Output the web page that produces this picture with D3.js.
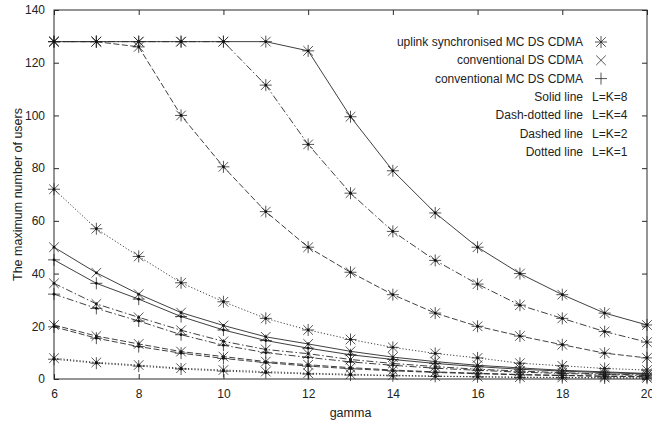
<!DOCTYPE html>
<html lang="en">
<head>
<meta charset="UTF-8">
<title>Maximum number of users vs gamma</title>
<script src="https://d3js.org/d3.v7.min.js"></script>
<style>
  body { margin: 0; background: #fff; }
  text { font-family: "Liberation Sans", Arial, sans-serif; fill: #222; }
</style>
</head>
<body>
<svg id="chart" width="652" height="424"></svg>
<script>
// x values and tick labels
const gammaValues = [6, 7, 8, 9, 10, 11, 12, 13, 14, 15, 16, 17, 18, 19, 20];
const xTicks = [6, 8, 10, 12, 14, 16, 18, 20];
const yTicks = [0, 20, 40, 60, 80, 100, 120, 140];

// uplink synchronised MC DS CDMA (asterisk)
const uplinkL8 = [128, 128, 128, 128, 128, 128, 124.5, 99.5, 79, 63, 50, 40, 32, 25, 20.5];
const uplinkL4 = [128, 128, 128, 128, 128, 111.5, 89, 70.5, 56, 45, 36, 28, 23, 18, 14];
const uplinkL2 = [128, 128, 126, 100, 80.5, 63.5, 50, 40.5, 32, 25, 20, 16.3, 13, 9.8, 8];
const uplinkL1 = [72, 57, 46.5, 36.5, 29.3, 23, 18.6, 15, 12, 9.7, 8, 6, 5, 4, 3.4];

// conventional DS CDMA (x)
const convDsL8 = [50, 40.3, 32.2, 25.2, 20.3, 16, 13.3, 10.5, 8.3, 6.6, 5.2, 4.2, 3.3, 2.7, 2.1];
const convDsL4 = [36.3, 28.5, 23.4, 18.5, 14.3, 11.2, 9.6, 7.4, 5.9, 4.7, 3.7, 3, 2.4, 1.9, 1.5];
const convDsL2 = [20.5, 16.3, 13.3, 10.4, 8.5, 6.6, 5.4, 4.3, 3.4, 2.7, 2.2, 1.7, 1.4, 1.1, 0.9];
const convDsL1 = [7.9, 6.3, 5.3, 4.1, 3.4, 2.8, 2.2, 1.8, 1.4, 1.1, 0.9, 0.7, 0.6, 0.5, 0.4];

// conventional MC DS CDMA (+)
const convMcL8 = [45.2, 36.3, 30.3, 23.7, 18.6, 14.6, 11.7, 9.2, 7.4, 5.9, 4.7, 3.7, 3, 2.4, 1.9];
const convMcL4 = [32.2, 26.8, 22, 16.8, 12.8, 10, 8.2, 6.5, 5.2, 4.1, 3.3, 2.6, 2.1, 1.7, 1.3];
const convMcL2 = [19.8, 15.5, 12.3, 9.8, 7.8, 6.2, 4.9, 3.9, 3.1, 2.5, 2, 1.6, 1.3, 1, 0.8];
const convMcL1 = [7.5, 6, 4.9, 3.8, 3, 2.4, 1.9, 1.5, 1.2, 1, 0.8, 0.6, 0.5, 0.4, 0.3];

const legendSystems = ["uplink synchronised MC DS CDMA", "conventional DS CDMA", "conventional MC DS CDMA"];
const legendLines = [["Solid line", "L=K=8"], ["Dash-dotted line", "L=K=4"], ["Dashed line", "L=K=2"], ["Dotted line", "L=K=1"]];

const dashes = { solid: null, dashdot: "7,2.5,1.5,2.5", dashed: "6,2.5", dotted: "1.2,2" };

const series = [
  { values: uplinkL8, marker: "star", style: "solid" },
  { values: uplinkL4, marker: "star", style: "dashdot" },
  { values: uplinkL2, marker: "star", style: "dashed" },
  { values: uplinkL1, marker: "star", style: "dotted" },
  { values: convDsL8, marker: "cross", style: "solid" },
  { values: convDsL4, marker: "cross", style: "dashdot" },
  { values: convDsL2, marker: "cross", style: "dashed" },
  { values: convDsL1, marker: "cross", style: "dotted" },
  { values: convMcL8, marker: "plus", style: "solid" },
  { values: convMcL4, marker: "plus", style: "dashdot" },
  { values: convMcL2, marker: "plus", style: "dashed" },
  { values: convMcL1, marker: "plus", style: "dotted" }
];

const margin = { left: 54, right: 5, top: 10, bottom: 45 };
const width = 652, height = 424;

const svg = d3.select("#chart");

const x = d3.scaleLinear().domain([6, 20]).range([margin.left, width - margin.right]);
const y = d3.scaleLinear().domain([0, 140]).range([height - margin.bottom, margin.top]);

const ink = "#2a2a2a";

// marker paths
function markerPath(type, s) {
  const p = d3.path();
  if (type === "plus" || type === "star") {
    p.moveTo(-s, 0); p.lineTo(s, 0);
    p.moveTo(0, -s); p.lineTo(0, s);
  }
  if (type === "cross" || type === "star") {
    const d = s * 0.8;
    p.moveTo(-d, -d); p.lineTo(d, d);
    p.moveTo(-d, d); p.lineTo(d, -d);
  }
  return p.toString();
}

// frame
svg.append("rect")
  .attr("x", x(6)).attr("y", y(140))
  .attr("width", x(20) - x(6)).attr("height", y(0) - y(140))
  .attr("fill", "none").attr("stroke", ink).attr("stroke-width", 1);

// axes with inward ticks (bottom/left) and mirrored ticks (top/right)
const xAxis = d3.axisBottom(x).tickValues(xTicks).tickSizeInner(-5).tickSizeOuter(0).tickPadding(10);
const yAxis = d3.axisLeft(y).tickValues(yTicks).tickSizeInner(-5).tickSizeOuter(0).tickPadding(9);

const gx = svg.append("g").attr("transform", `translate(0,${y(0)})`).call(xAxis);
const gy = svg.append("g").attr("transform", `translate(${x(6)},0)`).call(yAxis);
svg.append("g").attr("transform", `translate(0,${y(140)})`)
  .call(d3.axisTop(x).tickValues(xTicks).tickSizeInner(-5).tickSizeOuter(0).tickFormat(""));
svg.append("g").attr("transform", `translate(${x(20)},0)`)
  .call(d3.axisRight(y).tickValues(yTicks).tickSizeInner(-5).tickSizeOuter(0).tickFormat(""));

svg.selectAll(".domain").remove();
svg.selectAll(".tick line").attr("stroke", ink);
svg.selectAll(".tick text").attr("font-size", 12).attr("fill", "#222")
  .style("font-family", '"Liberation Sans", Arial, sans-serif');

// axis titles
svg.append("text")
  .attr("x", (x(6) + x(20)) / 2).attr("y", 417)
  .attr("text-anchor", "middle").attr("font-size", 12.5)
  .text("gamma");
svg.append("text")
  .attr("transform", `translate(22,${(y(0) + y(140)) / 2}) rotate(-90)`)
  .attr("text-anchor", "middle").attr("font-size", 12.5)
  .text("The maximum number of users");

// lines
const line = d3.line()
  .x((d, i) => x(gammaValues[i]))
  .y(d => y(d));

const plot = svg.append("g");

plot.selectAll(".curve")
  .data(series)
  .enter().append("path")
  .attr("class", "curve")
  .attr("d", d => line(d.values))
  .attr("fill", "none")
  .attr("stroke", ink)
  .attr("stroke-width", 0.9)
  .attr("stroke-dasharray", d => dashes[d.style]);

// markers
series.forEach(s => {
  const g = plot.append("g");
  g.selectAll("path")
    .data(s.values)
    .enter().append("path")
    .attr("transform", (d, i) => `translate(${x(gammaValues[i])},${y(d)})`)
    .attr("d", markerPath(s.marker, 6))
    .attr("fill", "none")
    .attr("stroke", ink)
    .attr("stroke-width", 0.8);
  g.selectAll("circle")
    .data(s.values)
    .enter().append("circle")
    .attr("cx", (d, i) => x(gammaValues[i]))
    .attr("cy", d => y(d))
    .attr("r", 1.4)
    .attr("fill", "#111");
});

// legend
const legX = 583, legMarkX = 601, rowY0 = 42, rowGap = 18.3;
const markerTypes = ["star", "cross", "plus"];

legendSystems.forEach((label, i) => {
  const cy = rowY0 + i * rowGap;
  svg.append("text")
    .attr("x", legX).attr("y", cy + 4)
    .attr("text-anchor", "end").attr("font-size", 12)
    .text(label);
  svg.append("path")
    .attr("transform", `translate(${legMarkX},${cy})`)
    .attr("d", markerPath(markerTypes[i], 6))
    .attr("fill", "none").attr("stroke", ink).attr("stroke-width", 0.8);
});

legendLines.forEach((pair, i) => {
  const cy = rowY0 + (i + 3) * rowGap;
  svg.append("text")
    .attr("x", legX).attr("y", cy + 4)
    .attr("text-anchor", "end").attr("font-size", 12)
    .text(pair[0]);
  svg.append("text")
    .attr("x", legX + 9).attr("y", cy + 4)
    .attr("text-anchor", "start").attr("font-size", 12)
    .text(pair[1]);
});
</script>
</body>
</html>
